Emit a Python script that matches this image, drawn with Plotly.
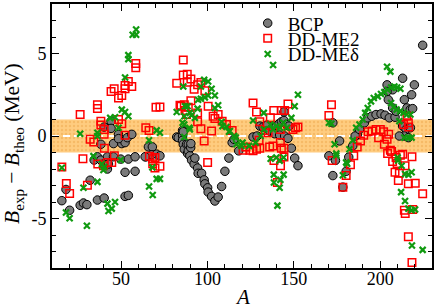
import plotly.graph_objects as go

# ---------------- data ----------------
bcp_A = [15.7, 18.1, 20.2, 26.3, 28.2, 30.2, 32.1, 36.3, 40.2, 52.3, 54.2,
         52.3, 58.1,
         34.4, 36.3, 38.3, 39.8, 42.1, 42.1, 42.7, 45.6, 49.8, 54.2, 58.1, 64.4,
         38.3, 45.6, 50.4, 52.3, 53.6, 56.2, 48.5, 48.5, 40.2, 44.2, 44.2,
         65.8, 68.1, 67.7, 70.6, 72.5, 63.9,
         82.2, 83.1, 85.6, 85.6, 85.6, 86.0, 86.6, 87.9, 88.5, 88.9, 88.9, 89.8, 90.3,
         90.4, 90.8, 92.3, 92.7, 94.3, 94.6, 96.6, 98.1, 98.5, 100.1, 100.4, 102.4,
         104.3, 106.2, 108.2, 110.1, 112.4, 114.3, 115.4, 118.1, 86.0,
         126.4, 128.7, 130.4, 132.2, 134.5, 136.0, 138.0, 139.9, 141.4, 142.8,
         144.3, 145.7, 147.2, 144.3, 138.9, 141.8, 144.7, 146.6, 148.6, 150.5, 152.4,
         170.3, 172.6, 172.6, 174.1, 176.5, 178.4, 180.3, 181.8, 184.1, 186.7, 185.5,
         188.0, 190.9, 192.8, 195.1, 197.6, 200.5, 202.8, 205.3, 208.6, 207.2, 209.2,
         204.0, 207.2, 204.0, 204.7, 213.0, 214.0, 215.5, 217.4, 218.8, 218.2, 219.8,
         224.6, 213.0, 215.0, 217.5, 214.0, 216.3, 211.1]
bcp_dB = [-3.92, -3.24, -4.5, -4.2, -4.06, -4.16, -2.68, -3.88, -3.76, -3.66, -3.6,
          -2.2, -2.14,
          -1.46, -1.26, -1.46, -1.7, -1.26, -2.0, -1.7, -1.26, -1.4, -1.4, -1.26, -1.26,
          -0.5, -0.46, -0.46, -0.4, -0.1, 0.1, 0.1, -0.16, 0.54, 0.9, 0.46,
          -0.66, -0.66, -1.14, -1.1, -1.2, -1.26,
          -0.06, -0.1, 0.34, 0.0, -0.26, -0.5, -0.8, -0.5, -1.06, -0.5, -0.9, -1.2, -0.7,
          -0.46, -1.46, -1.7, -1.34, -1.94, -2.26, -2.26, -2.66, -2.9, -3.14, -3.4, -3.66,
          -3.94, -3.7, -3.06, -2.14, -1.34, -0.4, -0.2, -0.9, 0.26,
          -0.06, 0.0, 0.6, 0.54, 0.66, 0.3, 0.5, 0.6, 0.74, 0.86,
          0.94, 0.7, 0.6, 1.46, 0.14, 0.06, 0.0, -0.14, -0.74, -1.34, -1.8,
          -1.2, -2.4, 0.8, -1.48, -0.3, -3.1, -2.14, -1.28, -0.6, 0.06, 0.0,
          0.4, 0.8, 1.1, 1.2, 1.3, 1.34, 1.26, 1.1, 1.14, 1.7, 1.5,
          3.1, 2.8, 2.7, 2.2, 3.5, 2.2, 1.7, 1.6, 1.66, 2.5, 3.1,
          5.5, 0.6, 0.4, 0.5, 0.0, -0.1, 0.0]

me2_A = [15.7, 18.3, 20.2, 26.3, 27.9, 30.5, 32.1, 34.2, 36.3, 36.3, 36.5, 38.3, 38.3,
         39.8, 40.2, 40.2, 40.3, 42.1, 44.2, 44.6, 46.0, 46.1, 48.5, 48.5, 50.4, 50.4,
         52.3, 52.3, 52.3, 54.2, 56.2, 58.5, 58.5, 64.3, 66.2, 66.4, 68.3, 68.3, 69.6,
         70.2, 72.5, 72.5, 69.6,
         82.2, 84.1, 84.7, 86.0, 86.0, 86.6, 87.0, 87.9, 88.3, 88.3, 88.9, 90.4, 90.4,
         92.3, 94.3, 94.3, 94.3, 96.2, 96.2, 98.5, 98.1, 100.4, 100.1, 102.4, 103.3,
         104.3, 106.2, 108.5, 111.0, 114.3,
         120.6, 122.2, 124.5, 126.4, 126.4, 128.4, 128.4, 129.9, 130.3, 130.3, 133.2,
         135.1, 136.0, 136.4, 137.9, 138.4, 138.5, 140.5, 142.2, 142.2, 142.3, 142.8,
         142.8, 144.3, 144.3, 144.7, 146.6, 149.5, 151.0, 152.4,
         170.3, 171.8, 172.2, 178.4, 180.3, 182.8, 184.7, 186.7, 188.6, 190.5, 193.0,
         195.3, 197.6, 200.1, 202.0, 204.9, 199.1, 204.0, 202.4, 205.9, 204.3, 206.6,
         207.2, 209.2, 209.8, 211.7, 213.0, 208.6, 211.1, 210.5, 214.4, 218.4, 216.3,
         220.3, 224.6, 214.0, 214.5, 218.8, 216.3, 218.4, 213.6, 215.5, 216.5, 216.3]
me2_dB = [-1.88, -2.88, -3.48, 1.3, -1.38, -2.98, -0.2, -0.36, 1.9, 1.66, -1.7, 0.9, 0.66,
          -1.8, 0.4, 0.1, -0.74, -1.6, 2.7, -1.6, 2.86, -1.2, 2.3, 1.0, 2.46, 0.74,
          3.06, 2.86, 0.05, 3.3, 3.0, 4.4, 4.14, 0.5, 0.34, -1.22, -1.38, -1.68, -1.94,
          1.74, 1.76, -1.84, -1.3,
          3.2, 1.86, 1.8, 4.6, 3.7, 1.9, 1.54, 1.3, 3.74, 3.26, 1.74, 3.46, 2.14,
          2.84, 3.1, 1.4, 0.86, 3.24, 0.44, 2.74, -0.3, 1.8, -1.6, 0.3, 1.2,
          1.06, 1.3, 0.9, 0.7, 0.34,
          -0.86, -0.66, -0.86, -0.9, 2.0, -0.8, 1.46, -0.26, 0.86, -0.74, 0.34,
          0.2, -0.66, 1.1, -0.6, 1.54, -1.48, -2.82, 0.4, -0.4, -1.8, 1.54,
          -0.74, -0.74, -1.28, 1.54, 1.94, 0.4, 0.5, 0.54,
          1.24, 1.9, -1.48, -3.1, -2.4, -1.74, -1.2, -0.66, -0.3, 0.04, 0.26,
          0.3, 0.4, 0.4, 0.26, 0.1, -0.1, -0.2, -0.5, -0.86, -1.06, -0.94,
          -1.54, -1.3, -1.66, -1.16, -1.1, -2.2, -2.26, -2.7, -1.8, -1.26, -2.9,
          -2.86, -3.5, -4.5, -4.7, -4.46, -6.1, -7.66, 0.7, 1.2, 0.54, 0.8]

med_A = [15.7, 18.1, 20.2, 26.3, 28.2, 30.2, 34.0, 36.3, 36.3, 36.3, 38.9, 39.8, 40.2,
         42.1, 42.7, 43.7, 44.6, 46.5, 46.5, 48.5, 49.8, 50.4, 52.3, 52.3, 54.2, 54.2,
         54.2, 56.7, 58.7, 58.7, 66.2, 66.2, 68.1, 68.3, 70.6, 70.6, 72.5, 72.5,
         82.2, 85.6, 86.0, 86.6, 86.6, 86.6, 87.0, 88.5, 89.5, 89.8, 89.8, 90.8, 92.7,
         94.3, 94.6, 96.2, 96.2, 98.1, 98.5, 100.4, 100.4, 102.4, 104.3, 104.3, 106.2,
         108.2, 108.7, 111.0, 112.5, 113.0, 115.4, 116.4, 116.8, 119.7, 120.3, 124.1,
         127.9, 130.8, 132.7, 136.4, 126.4, 132.6, 138.0, 148.6, 150.5, 152.4,
         138.0, 140.0, 142.0, 144.0, 146.0,
         136.6, 139.9, 141.8, 144.1, 138.4, 144.1, 142.2, 138.5, 141.8, 140.5,
         170.3, 171.8, 173.6, 174.6, 174.6, 178.4, 180.3, 180.9, 182.2, 184.1, 186.1,
         188.0, 189.9, 191.3, 192.8, 194.7, 196.3, 198.6, 200.5, 202.4, 204.3, 206.3,
         208.2, 209.8, 211.7, 204.0, 205.9, 206.3, 207.8, 209.5, 211.5, 213.5, 215.5,
         217.5, 211.1, 214.0, 216.3, 218.2, 210.1, 210.3, 212.4, 214.4, 216.3, 218.2,
         212.1, 214.4, 216.3, 218.2, 220.2, 218.4, 224.6]
med_dB = [-1.92, -4.64, -4.98, 0.14, -3.14, -5.44, -1.22, -2.78, 0.2, 0.0, -1.7, -2.06, -1.88,
          -4.1, -4.54, 1.1, -4.4, -4.0, 1.14, 0.5, -1.46, 1.6, 1.46, 3.54, 1.2, 4.9,
          4.66, 6.14, 6.14, 6.46, -0.26, -3.06, -1.9, -3.58, 0.34, -2.6, 0.2, -2.6,
          1.46, 0.8, 3.0, 1.2, 0.7, -0.06, 1.8, 1.8, 0.5, 1.4, 0.4, 1.26, 1.1,
          1.66, 2.2, 2.26, 3.0, 3.4, 2.34, 3.3, 2.46, 2.86, 2.46, 1.7, 1.86,
          0.86, 0.6, 0.54, 0.26, 0.3, 0.0, -0.1, -0.5, -0.6, -0.4, -0.6,
          -0.4, 0.0, 0.4, 0.7, 0.94, 1.4, 4.3, 1.1, 1.8, 2.5,
          0.4, 0.6, 0.5, 0.8, 0.5,
          -1.38, -1.3, -1.5, -1.3, -2.34, -2.34, -2.66, -2.82, -3.14, -4.22,
          0.8, 0.74, -0.5, -1.06, -1.18, -2.38, -1.6, -1.68, -0.8, -0.26, 0.5,
          0.7, 1.0, 1.4, 1.7, 2.1, 2.3, 2.4, 2.54, 2.66, 2.8, 2.94,
          3.0, 2.94, 2.86, 4.2, 3.9, 2.0, 1.74, 1.6, 1.5, 1.4, 1.3,
          1.3, 0.9, -0.1, -0.1, -0.1, -1.3, -1.48, -1.8, -2.3, -2.34, -2.2,
          -3.4, -3.94, -4.4, -4.5, -4.46, -6.64, -6.9]

band_lo, band_hi = -1.0, 1.0
x_range = [10, 230]
y_range = [-8, 8]

FONT = "Liberation Serif"

fig = go.Figure()

# uncertainty band (+-1 MeV)
fig.add_trace(go.Scatter(
    x=[x_range[0], x_range[1], x_range[1], x_range[0], x_range[0]],
    y=[band_lo, band_lo, band_hi, band_hi, band_lo],
    mode="lines", line=dict(width=0), fill="toself",
    fillcolor="#FFCC80",
    fillpattern=dict(shape=".", bgcolor="#FFCC80", fgcolor="#EBA84E", size=4, solidity=0.3),
    showlegend=False, hoverinfo="skip"))
# zero line
fig.add_trace(go.Scatter(
    x=x_range, y=[0, 0], mode="lines",
    line=dict(color="white", width=1.8, dash="7px,4px"),
    showlegend=False, hoverinfo="skip"))

fig.add_trace(go.Scatter(
    x=bcp_A, y=bcp_dB, mode="markers", name="BCP", legend="legend",
    marker=dict(symbol="circle", size=8.5, color="#7a7a7a",
                line=dict(color="black", width=1))))
fig.add_trace(go.Scatter(
    x=me2_A, y=me2_dB, mode="markers", name="DD-ME2", legend="legend2",
    marker=dict(symbol="square-open", size=7.5, color="#ff0000",
                line=dict(color="#ff0000", width=1.5))))
fig.add_trace(go.Scatter(
    x=med_A, y=med_dB, mode="markers", name="DD-MEδ", legend="legend3",
    marker=dict(symbol="x-thin", size=6, color="#109a10",
                line=dict(color="#109a10", width=2.2))))

axis_common = dict(
    showline=True, linecolor="black", linewidth=1.6, mirror="allticks",
    ticks="inside", ticklen=7, tickwidth=1.3, tickcolor="black",
    showgrid=False, zeroline=False,
    tickfont=dict(family=FONT, size=18, color="black"),
)

fig.update_xaxes(range=x_range, tickvals=[50, 100, 150, 200], ticklabelstandoff=-6,
                 minor=dict(dtick=10, ticks="inside", ticklen=4, tickwidth=1.2, tickcolor="black", showgrid=False),
                 **axis_common)
fig.update_yaxes(range=y_range, tickvals=[-5, 0, 5], ticktext=["-5", "0", "5"],
                 minor=dict(dtick=1, ticks="inside", ticklen=4, tickwidth=1.2, tickcolor="black", showgrid=False),
                 **axis_common)

# axis titles
fig.add_annotation(text="<i>A</i>", xref="paper", yref="paper", x=0.5, y=-0.108,
                   xanchor="center", yanchor="middle", showarrow=False,
                   font=dict(family=FONT, size=21, color="black"))
fig.add_annotation(text="<i>B</i><sub>exp</sub> − <i>B</i><sub>theo</sub> (MeV)",
                   xref="paper", yref="paper", x=-0.1, y=0.47, textangle=-90,
                   xanchor="center", yanchor="middle", showarrow=False,
                   font=dict(family=FONT, size=21.5, color="black"))

leg = dict(bgcolor="rgba(0,0,0,0)", borderwidth=0, xanchor="left", yanchor="middle",
           font=dict(family=FONT, size=19, color="black"), itemwidth=30)
fig.update_layout(
    width=436, height=308,
    margin=dict(l=52, r=2, t=2, b=40),
    plot_bgcolor="white", paper_bgcolor="white",
    legend=dict(x=0.515, y=0.927, **leg),
    legend2=dict(x=0.515, y=0.870, **leg),
    legend3=dict(x=0.515, y=0.810, **leg),
)

fig.write_html("out.html", config={"displayModeBar": False},
               post_script="document.body.style.margin='0px';")
